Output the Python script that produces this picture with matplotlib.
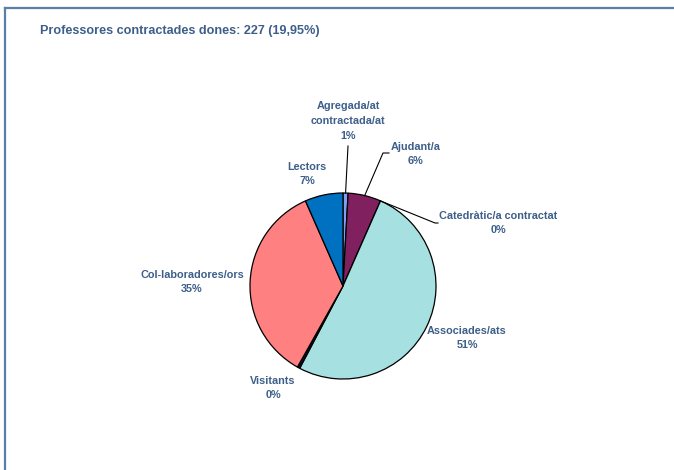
import matplotlib
matplotlib.use("Agg")
import matplotlib.pyplot as plt
from matplotlib.lines import Line2D
import numpy as np

plt.rcParams['font.family'] = ['Liberation Sans', 'DejaVu Sans']

title = "Professores contractades dones: 227 (19,95%)"
categories = ["Agregada/at\ncontractada/at", "Ajudant/a", "Catedràtic/a contractat",
              "Associades/ats", "Visitants", "Col-laboradores/ors", "Lectors"]
values = [2, 13, 0, 116, 1, 80, 15]
colors = ["#7f9ff0", "#80205f", "#202040", "#a6e0e0", "#101030", "#ff8080", "#0070c0"]

W, H = 674, 470
fig = plt.figure(figsize=(W / 100, H / 100), dpi=100)
ax = fig.add_axes([0, 0, 1, 1])
ax.set_xlim(0, W)
ax.set_ylim(0, H)
ax.axis('off')

cx, cy_pix, R = 343, 286, 93
cy = H - cy_pix
wedges, _ = ax.pie(values, colors=colors, startangle=90, counterclock=False,
                   center=(cx, cy), radius=R,
                   wedgeprops=dict(edgecolor='black', linewidth=0.9))
ax.set_xlim(0, W)
ax.set_ylim(0, H)
ax.set_aspect('equal')

txt_color = '#3d5f8a'
total = sum(values)
pcts = [f"{round(100 * v / total):d}%" for v in values]

# label centers (pixel coords, y from top)
label_pos = [(348, 121), (416, 154), (498, 223), (467, 338), (273, 388), (192, 282), (307, 174)]
for lab, p, (x, y) in zip(categories, pcts, label_pos):
    ax.text(x, H - y, f"{lab}\n{p}", ha='center', va='center', fontsize=7.8,
            fontweight='bold', color=txt_color, linespacing=1.6)

# leader lines
def edge_point(i):
    start = sum(values[:i]) / total * 360
    mid = start + values[i] / total * 180
    th = np.deg2rad(mid)
    return cx + R * np.sin(th), cy + R * np.cos(th)

leaders = {0: [(348, 146)], 1: [(383, 153), (389, 153)], 2: [(435, 223), (438, 223)]}
for i, pts in leaders.items():
    x0, y0 = edge_point(i)
    xs = [x0] + [p[0] for p in pts]
    ys = [y0] + [H - p[1] for p in pts]
    ax.plot(xs, ys, color='black', linewidth=0.8)

fig.text(40 / W, 1 - 31 / H, title, ha='left', va='center', fontsize=9.1,
         fontweight='bold', color=txt_color)

border = '#5b7fa8'
fig.add_artist(Line2D([5 / W, 1], [1 - 8 / H, 1 - 8 / H], color=border, linewidth=1.6))
fig.add_artist(Line2D([5 / W, 5 / W], [0, 1 - 8 / H], color=border, linewidth=1.6))

fig.savefig("out.png", dpi=100, facecolor='white')
